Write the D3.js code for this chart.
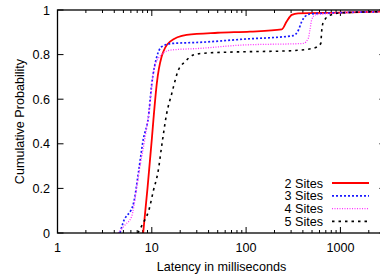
<!DOCTYPE html>
<html><head><meta charset="utf-8">
<script src="https://cdn.jsdelivr.net/npm/d3@7"></script>
<style>body{margin:0;background:#fff}svg{display:block}text{font-family:"Liberation Sans",Arial,Helvetica,sans-serif;fill:#000}</style>
</head><body>
<script>
const seriesNames = ["2 Sites","3 Sites","4 Sites","5 Sites"];
const lat2 = [8.1,9.0,10,10.4,11.3,12.7,15.6,23.4,50,110,239,269,305,356,1000,3000];
const p2   = [0,0.2,0.42,0.507,0.671,0.79,0.858,0.888,0.898,0.903,0.913,0.948,0.978,0.985,0.988,0.993];
const lat3 = [4.6,4.95,6.4,7.2,8.1,9.2,10,11.3,12.7,16.3,32.5,92.5,316,359,389,420,475,1000,3000];
const p3   = [0,0.045,0.133,0.268,0.417,0.52,0.67,0.79,0.835,0.85,0.855,0.869,0.885,0.91,0.948,0.97,0.982,0.988,0.993];
const lat4 = [4.4,5.2,6.1,6.9,7.5,8.4,9.4,10.4,11.7,15.6,32.5,92.5,403,457,475,495,540,655,1000,3000];
const p4   = [0,0.036,0.073,0.2,0.3,0.417,0.55,0.716,0.783,0.82,0.828,0.843,0.85,0.873,0.91,0.955,0.978,0.982,0.988,0.993];
const lat5 = [7.1,8.4,9.2,10.4,11.7,12.7,14.4,16.3,19.1,22.5,27.5,35,101,250,515,620,630,660,690,840,1000,3000];
const p5   = [0,0.058,0.095,0.19,0.28,0.387,0.537,0.626,0.73,0.768,0.798,0.806,0.813,0.816,0.828,0.85,0.895,0.948,0.96,0.982,0.987,0.993];
const xTicks = [1,10,100,1000];
const yTicks = [0,0.2,0.4,0.6,0.8,1];
const colors = ["#ff0000","#1a1aff","#ff33ff","#000000"];
const dashes = [null,"2,2","1,1.5","2.5,4"];
const widths = [1.8,1.7,1.3,1.6];

const W=380,H=278, L=57.5, R=385.4, T=10, B=233, FS=12.6;
const svg=d3.select("body").append("svg").attr("width",W).attr("height",H);
const x=d3.scaleLog().domain([1,3000]).range([L,R]);
const y=d3.scaleLinear().domain([0,1]).range([B,T]);

svg.append("defs").append("clipPath").attr("id","c").append("rect")
  .attr("x",L).attr("y",T).attr("width",R-L).attr("height",B-T);

const minor=[];
for(let d=1;d<=1000;d*=10) for(let k=2;k<=9;k++){ if(d*k<=3000) minor.push(d*k); }
const tg=svg.append("g").attr("stroke","#000").attr("stroke-width",1);
minor.forEach(v=>{
  tg.append("line").attr("x1",x(v)).attr("x2",x(v)).attr("y1",B).attr("y2",B-3);
  tg.append("line").attr("x1",x(v)).attr("x2",x(v)).attr("y1",T).attr("y2",T+3);
});
xTicks.forEach(v=>{
  tg.append("line").attr("x1",x(v)).attr("x2",x(v)).attr("y1",B).attr("y2",B-6);
  tg.append("line").attr("x1",x(v)).attr("x2",x(v)).attr("y1",T).attr("y2",T+6);
  svg.append("text").attr("x",x(v)).attr("y",252).attr("text-anchor","middle").attr("font-size",FS).text(v);
});
yTicks.forEach(v=>{
  tg.append("line").attr("x1",L).attr("x2",L+6).attr("y1",y(v)).attr("y2",y(v));
  tg.append("line").attr("x1",R).attr("x2",R-6).attr("y1",y(v)).attr("y2",y(v));
  svg.append("text").attr("x",50).attr("y",y(v)+4.5).attr("text-anchor","end").attr("font-size",FS).text(v);
});

const data=[[lat2,p2],[lat3,p3],[lat4,p4],[lat5,p5]];
const line=d3.line().x(d=>x(d[0])).y(d=>y(d[1])).curve(d3.curveMonotoneX);
const pg=svg.append("g").attr("clip-path","url(#c)");
data.forEach((s,i)=>{
  const pts=s[0].map((v,j)=>[v,s[1][j]]);
  pg.append("path").attr("d",line(pts)).attr("fill","none")
    .attr("stroke",colors[i]).attr("stroke-width",widths[i])
    .attr("stroke-dasharray",dashes[i]);
});

svg.append("rect").attr("x",L).attr("y",T).attr("width",R-L).attr("height",B-T)
  .attr("fill","none").attr("stroke","#000").attr("stroke-width",1.3);

seriesNames.forEach((n,i)=>{
  const yy=183+i*12.8;
  svg.append("text").attr("x",323).attr("y",yy+4.5).attr("text-anchor","end").attr("font-size",FS).text(n);
  svg.append("line").attr("x1",332).attr("x2",369).attr("y1",yy).attr("y2",yy)
    .attr("stroke",colors[i]).attr("stroke-width",widths[i]).attr("stroke-dasharray",dashes[i]);
});

svg.append("text").attr("x",(L+R)/2).attr("y",271).attr("text-anchor","middle").attr("font-size",FS).text("Latency in milliseconds");
svg.append("text").attr("transform",`translate(24,${(T+B)/2}) rotate(-90)`).attr("text-anchor","middle").attr("font-size",FS).text("Cumulative Probability");
</script>
</body></html>
